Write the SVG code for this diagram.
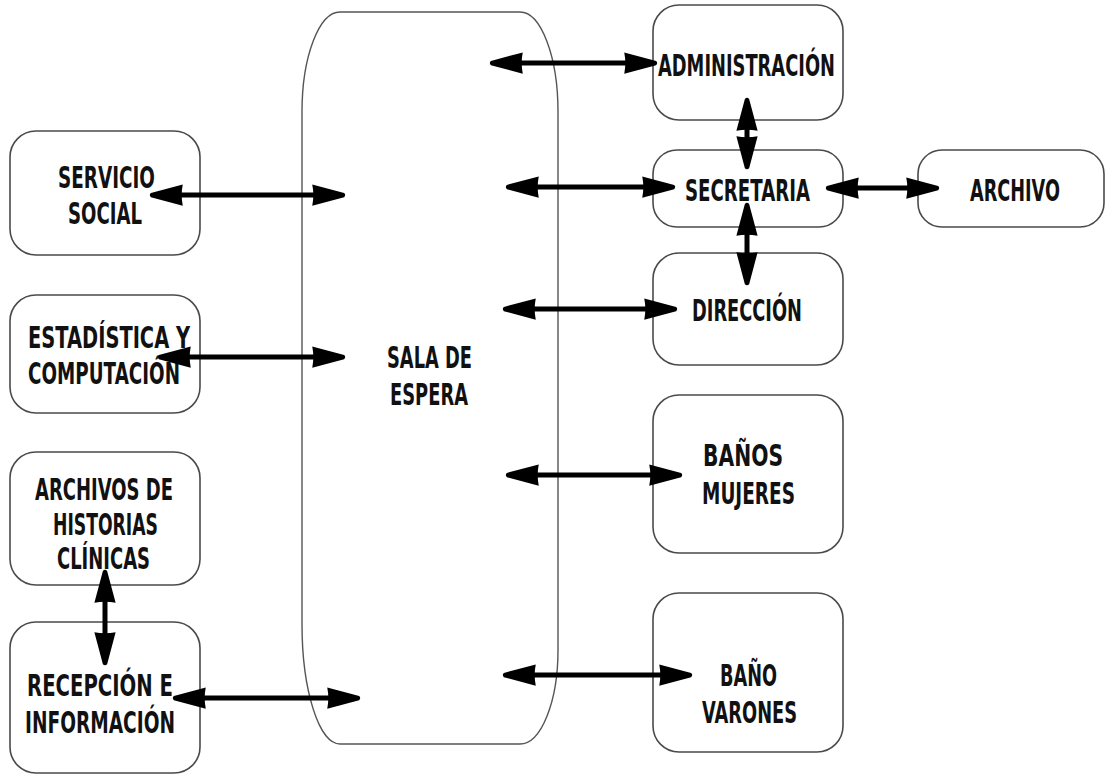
<svg xmlns="http://www.w3.org/2000/svg" width="1107" height="779" viewBox="0 0 1107 779">
<style>
.box{fill:#fff;stroke:#4a4a4a;stroke-width:1.6}
.sala{fill:none;stroke:#555;stroke-width:1.4}
.t{font-family:"DejaVu Sans","Liberation Sans",sans-serif;font-weight:bold;font-size:31px;fill:#111;text-anchor:middle}
.c{stroke:#000;stroke-width:5;fill:none;marker-start:url(#ah);marker-end:url(#ah)}
</style>
<defs>
<marker id="ah" markerUnits="userSpaceOnUse" markerWidth="34" markerHeight="24" viewBox="0 0 32 22" refX="12" refY="11" orient="auto-start-reverse">
<path d="M0,1 Q2,11 0,21 L30,13 Q32,11 30,9 Z" fill="#000"/>
</marker>
</defs>
<rect width="1107" height="779" fill="#fff"/>
<g id="sala">
<path class="sala" d="M340,12 L520,12 A38,100 0 0 1 558,112 L558,650 A38,94 0 0 1 520,744 L340,744 A38,120 0 0 1 302,624 L302,112 A38,100 0 0 1 340,12 Z"/>
<text class="t" x="429.5" y="368" textLength="85" lengthAdjust="spacingAndGlyphs">SALA DE</text>
<text class="t" x="429" y="405" textLength="78" lengthAdjust="spacingAndGlyphs">ESPERA</text>
</g>
<g id="servicio">
<rect class="box" x="10" y="131" width="190" height="124" rx="26"/>
<text class="t" x="106.5" y="188" textLength="97" lengthAdjust="spacingAndGlyphs">SERVICIO</text>
<text class="t" x="105" y="224" textLength="74" lengthAdjust="spacingAndGlyphs">SOCIAL</text>
</g>
<g id="estadistica">
<rect class="box" x="10" y="295" width="190" height="118" rx="26"/>
<text class="t" x="109" y="348" textLength="162" lengthAdjust="spacingAndGlyphs">ESTADÍSTICA Y</text>
<text class="t" x="104" y="384" textLength="152" lengthAdjust="spacingAndGlyphs">COMPUTACIÓN</text>
</g>
<g id="archivos">
<rect class="box" x="10" y="452" width="190" height="133" rx="26"/>
<text class="t" x="104" y="500" textLength="138" lengthAdjust="spacingAndGlyphs">ARCHIVOS DE</text>
<text class="t" x="105.5" y="535" textLength="105" lengthAdjust="spacingAndGlyphs">HISTORIAS</text>
<text class="t" x="103.5" y="569" textLength="93" lengthAdjust="spacingAndGlyphs">CLÍNICAS</text>
</g>
<g id="recepcion">
<rect class="box" x="10" y="622" width="190" height="151" rx="26"/>
<text class="t" x="100" y="696" textLength="146" lengthAdjust="spacingAndGlyphs">RECEPCIÓN E</text>
<text class="t" x="100" y="733" textLength="150" lengthAdjust="spacingAndGlyphs">INFORMACIÓN</text>
</g>
<g id="administracion">
<rect class="box" x="653" y="5" width="190" height="115" rx="26"/>
<text class="t" x="746.5" y="76" textLength="177" lengthAdjust="spacingAndGlyphs">ADMINISTRACIÓN</text>
</g>
<g id="secretaria">
<rect class="box" x="653" y="150" width="190" height="77" rx="24"/>
<text class="t" x="747.5" y="201" textLength="125" lengthAdjust="spacingAndGlyphs">SECRETARIA</text>
</g>
<g id="archivo">
<rect class="box" x="918" y="150" width="186" height="77" rx="24"/>
<text class="t" x="1015" y="201" textLength="90" lengthAdjust="spacingAndGlyphs">ARCHIVO</text>
</g>
<g id="direccion">
<rect class="box" x="653" y="253" width="190" height="112" rx="26"/>
<text class="t" x="747" y="321" textLength="110" lengthAdjust="spacingAndGlyphs">DIRECCIÓN</text>
</g>
<g id="banos-mujeres">
<rect class="box" x="653" y="395" width="190" height="158" rx="26"/>
<text class="t" x="743" y="466" textLength="80" lengthAdjust="spacingAndGlyphs">BAÑOS</text>
<text class="t" x="748.5" y="504" textLength="93" lengthAdjust="spacingAndGlyphs">MUJERES</text>
</g>
<g id="bano-varones">
<rect class="box" x="653" y="593" width="190" height="159" rx="26"/>
<text class="t" x="748.5" y="686" textLength="57" lengthAdjust="spacingAndGlyphs">BAÑO</text>
<text class="t" x="749.5" y="723" textLength="95" lengthAdjust="spacingAndGlyphs">VARONES</text>
</g>
<g id="connectors">
<line class="c" x1="170" y1="195" x2="325" y2="195"/>
<line class="c" x1="178" y1="357" x2="325" y2="357"/>
<line class="c" x1="193" y1="698" x2="340" y2="698"/>
<line class="c" x1="105" y1="590" x2="105" y2="645"/>
<line class="c" x1="510" y1="63" x2="637" y2="63"/>
<line class="c" x1="526" y1="187" x2="655" y2="187"/>
<line class="c" x1="747" y1="118" x2="747" y2="149"/>
<line class="c" x1="846" y1="188" x2="919" y2="188"/>
<line class="c" x1="747" y1="223" x2="747" y2="265"/>
<line class="c" x1="523" y1="309" x2="657" y2="309"/>
<line class="c" x1="526" y1="475" x2="662" y2="475"/>
<line class="c" x1="523" y1="675" x2="672" y2="675"/>
</g>
</svg>
